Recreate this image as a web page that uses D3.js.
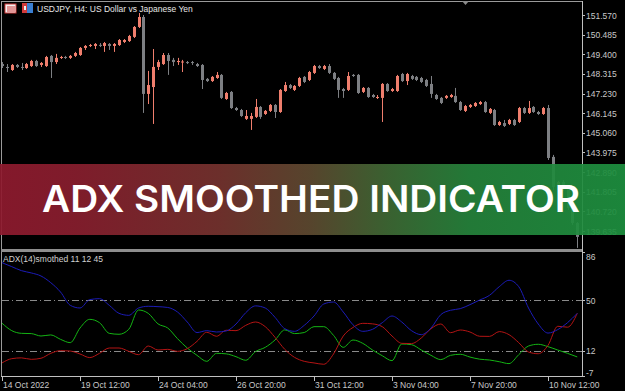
<!DOCTYPE html>
<html>
<head>
<meta charset="utf-8">
<script src="https://cdn.jsdelivr.net/npm/d3@7"></script>
<style>
  body { margin: 0; background: #000; }
  svg { display: block; }
  text { font-family: "Liberation Sans", Arial, sans-serif; }
</style>
</head>
<body>
<svg id="chart"></svg>
<script>
// USDJPY H4 bars, 14 Oct 2022 20:00 .. 11 Nov 2022
var open = [148.86,148.70,148.53,148.81,148.70,148.64,148.75,149.03,148.81,148.75,
  149.31,148.97,149.20,149.25,149.20,149.31,149.36,149.75,149.86,149.86,
  149.92,149.86,149.97,149.86,149.91,150.08,150.13,150.36,150.91,151.46,
  147.21,147.59,148.70,148.86,149.36,149.09,148.97,148.97,148.97,148.97,
  148.86,148.81,148.04,147.92,148.09,148.26,146.93,147.32,146.43,146.32,
  145.83,145.83,145.94,146.49,146.10,146.27,146.60,146.21,147.37,147.70,
  147.43,147.65,148.15,147.98,148.37,148.75,148.59,148.75,148.37,148.09,
  147.48,147.43,148.26,148.26,147.32,147.54,147.15,146.99,146.99,147.76,
  147.37,147.37,148.31,147.92,148.20,148.15,148.09,147.98,147.76,147.15,
  146.99,146.99,147.04,147.10,146.76,146.27,146.49,146.54,146.65,146.76,
  146.16,146.32,145.49,145.60,145.55,145.77,145.66,146.43,146.16,146.49,
  146.21,146.10,146.43,143.73,141.90,142.34,142.00,140.91,140.08];
var high = [148.97,148.86,148.86,148.86,148.92,148.92,149.09,149.09,148.97,149.31,
  149.36,149.42,149.31,149.31,149.36,149.53,149.80,149.91,149.97,150.02,
  150.02,150.08,150.02,150.02,150.24,150.24,150.47,150.96,151.68,151.57,
  148.48,149.69,149.09,149.47,149.47,149.20,149.20,149.09,149.03,149.03,
  148.92,148.86,148.09,148.20,148.42,148.31,147.32,147.37,146.49,146.38,
  146.32,146.16,146.93,146.54,146.32,146.65,146.65,147.48,147.87,147.76,
  147.70,148.15,148.20,148.48,148.81,148.81,148.81,148.86,148.42,148.15,
  147.54,148.42,148.31,148.31,147.59,147.59,147.21,147.15,147.81,147.81,
  147.54,148.26,148.37,148.37,148.26,148.20,148.15,148.04,148.20,147.21,
  147.04,147.15,147.21,147.54,146.82,146.60,146.65,146.76,146.82,146.82,
  146.43,146.38,145.72,145.77,145.83,145.83,146.49,146.49,146.82,146.54,
  146.27,146.49,146.60,143.84,142.40,142.45,142.10,141.00,140.13];
var low = [148.64,148.42,148.48,148.64,148.53,148.59,148.70,148.70,148.70,148.70,
  148.09,148.86,149.14,149.14,149.14,149.25,149.31,149.64,149.80,149.69,
  149.80,149.53,149.64,149.53,149.86,150.02,150.08,150.30,150.85,146.16,
  146.65,145.55,148.53,148.81,148.26,148.75,148.81,148.42,148.86,148.81,
  148.70,147.48,147.87,147.87,148.04,146.93,146.88,146.38,146.27,145.94,
  145.77,145.22,145.88,145.83,146.05,146.21,145.88,146.16,147.32,147.48,
  147.37,147.59,147.81,147.92,148.31,148.59,148.53,148.31,147.98,146.99,
  146.99,147.37,148.15,147.21,147.26,146.99,146.99,146.93,145.66,147.32,
  147.32,147.32,147.87,147.70,147.98,147.92,147.81,147.59,146.99,146.88,
  146.65,146.93,146.99,146.71,146.27,146.21,146.43,146.49,146.60,146.16,
  146.10,145.44,145.44,145.38,145.49,145.44,145.60,146.10,146.10,146.16,
  146.05,146.05,143.56,141.90,141.70,141.85,140.80,139.97,138.70];
var close = [148.75,148.64,148.81,148.70,148.68,148.86,149.03,148.75,148.92,149.25,
  148.97,149.20,149.25,149.20,149.31,149.47,149.75,149.86,149.91,149.97,
  149.90,150.02,149.86,149.97,150.19,150.19,150.41,150.91,151.46,147.21,
  147.70,148.70,148.97,149.36,149.03,148.97,149.03,149.00,148.92,148.92,
  148.75,147.98,147.92,148.15,148.26,146.99,147.26,146.43,146.32,145.99,
  145.99,145.99,146.49,145.94,146.27,146.60,146.21,147.43,147.70,147.54,
  147.65,148.09,147.87,148.42,148.75,148.64,148.75,148.37,148.04,147.43,
  147.37,148.20,148.20,147.26,147.54,147.04,147.04,147.04,147.76,147.37,
  147.48,148.20,147.92,148.31,148.04,147.98,147.87,147.65,147.21,146.93,
  146.71,147.10,147.15,146.76,146.32,146.54,146.60,146.71,146.76,146.21,
  146.38,145.49,145.66,145.44,145.77,145.49,146.43,146.16,146.43,146.21,
  146.10,146.43,143.67,142.07,142.34,142.00,140.91,140.08,139.31];

var priceTicks = [151.570,150.485,149.400,148.315,147.230,146.145,145.060,143.975,142.890,141.805,140.720,139.635];

var timeTickBars = [0,16,32,48,64,80,96,112];
var timeTickLabels = ["14 Oct 2022","19 Oct 12:00","24 Oct 04:00","26 Oct 20:00","31 Oct 12:00","3 Nov 04:00","7 Nov 20:00","10 Nov 12:00"];

// ADX smoothed indicator, sampled every second bar
var sampleBars = [0,2,4,6,8,10,12,14,16,18,20,22,24,26,28,30,32,34,36,38,40,42,44,46,48,50,52,54,56,58,
  60,62,64,66,68,70,72,74,76,78,80,82,84,86,88,90,92,94,96,98,100,102,104,106,108,110,112,114,116,118];
var adx = [78,75,72,70.3,68,63,56,46,44,50.3,51,46,40,38.5,44,45.3,45,44.4,41,33.5,
  25.6,27,26,26.8,32,40.5,45.6,44,37,28.5,26.5,31,38,47,48.5,41,31.4,26.5,28,33,
  38,33.5,27,24,29,39,42.3,43.5,46.5,50,53.5,60,64.8,60,44,32,25.2,27.8,33,40];
var minusDi = [2.8,6,6.6,5.5,6.3,10,12,11.7,9.5,6.8,10,14,14,11.5,9,15.5,12.5,13,11.5,13.5,
  19,25.8,22.8,27.3,27,31,33.5,30,22,13,7,4,2.8,1.8,9.5,23,29.4,32.5,32.1,30,
  23,17.5,17.3,21.5,28.5,32,25.5,27.5,26,22.8,22.7,26.3,24,18,11,9.7,16,30.3,29.6,40];
var plusDi = [32.6,27,25,24.8,23,23.8,20.5,18,29,35.5,33,25,24.3,28,42.5,40,32.1,29,21,14,
  8.5,4,10,9.6,7.5,4.8,11.3,14.5,20,27.6,24.8,25.6,30,30,23.5,14.5,20,17.5,12.5,8.2,
  4.5,17,16.5,12.5,8.5,5.3,8.5,9.3,7.2,5.6,5,3.7,2.3,9,15.5,16.8,15,12.5,10,7.3];
var indTicks = [86,50,12,-7];
var indLevels = [50,12];

var width = 625, height = 391;
var plotRight = 582;

var svg = d3.select("#chart").attr("width", width).attr("height", height);
svg.append("rect").attr("width", width).attr("height", height).attr("fill", "#000");

var x = d3.scaleLinear().domain([0, 118]).range([2, 577.25]);
var y = d3.scaleLinear().domain([139.635, 151.570]).range([231, 15]);
var yi = d3.scaleLinear().domain([-7, 86]).range([376, 252]);

var gray = "#7d7f83", salmon = "#ef7e6d";

// main pane
var main = svg.append("g");
main.append("clipPath").attr("id", "mainclip")
  .append("rect").attr("x", 1).attr("y", 2).attr("width", plotRight - 1).attr("height", 247);

var candles = main.append("g").attr("clip-path", "url(#mainclip)")
  .selectAll("g").data(open).enter().append("g");

candles.append("line")
  .attr("x1", function(d, i) { return Math.round(x(i)) + 0.5; })
  .attr("x2", function(d, i) { return Math.round(x(i)) + 0.5; })
  .attr("y1", function(d, i) { return y(high[i]); })
  .attr("y2", function(d, i) { return y(low[i]); })
  .attr("stroke", function(d, i) { return close[i] >= open[i] ? salmon : gray; })
  .attr("stroke-width", 1);

candles.append("rect")
  .attr("x", function(d, i) { return Math.round(x(i)) - 1; })
  .attr("width", 3)
  .attr("y", function(d, i) { return y(Math.max(open[i], close[i])); })
  .attr("height", function(d, i) { return Math.max(1, Math.abs(y(open[i]) - y(close[i]))); })
  .attr("fill", function(d, i) { return close[i] >= open[i] ? salmon : gray; });

// frame
svg.append("line").attr("x1", 1.5).attr("x2", 1.5).attr("y1", 1).attr("y2", 377).attr("stroke", "#9a9a9a");
svg.append("line").attr("x1", 1).attr("x2", plotRight).attr("y1", 1.5).attr("y2", 1.5).attr("stroke", "#9a9a9a");
svg.append("line").attr("x1", plotRight + 0.5).attr("x2", plotRight + 0.5).attr("y1", 1).attr("y2", 377).attr("stroke", "#c0c0c0");
svg.append("rect").attr("x", 1).attr("y", 249).attr("width", plotRight - 1).attr("height", 3).attr("fill", "#8e8e8e");
svg.append("line").attr("x1", 1).attr("x2", plotRight).attr("y1", 376.5).attr("y2", 376.5).attr("stroke", "#c0c0c0");

// shift marker
svg.append("path").attr("d", "M462,1 L469,1 L465.5,5 Z").attr("fill", "#8a8a8a");

// price axis
var pAxis = svg.append("g");
pAxis.selectAll("line").data(priceTicks).enter().append("line")
  .attr("x1", plotRight).attr("x2", plotRight + 3)
  .attr("y1", function(d) { return Math.round(y(d)) + 0.5; })
  .attr("y2", function(d) { return Math.round(y(d)) + 0.5; })
  .attr("stroke", "#c0c0c0");
pAxis.selectAll("text").data(priceTicks).enter().append("text")
  .attr("x", plotRight + 4).attr("y", function(d) { return y(d) + 3.5; })
  .attr("fill", "#c8c8c8").attr("font-size", "8.5px")
  .text(function(d) { return d3.format(".3f")(d); });

// header
svg.append("rect").attr("x", 5).attr("y", 4).attr("width", 11).attr("height", 9).attr("fill", "#f2f2f2").attr("stroke", "#d23a3a");
[6.5, 8.5, 10.5].forEach(function(r) {
  svg.append("line").attr("x1", 7).attr("x2", 15).attr("y1", r + 0.5).attr("y2", r + 0.5).attr("stroke", "#d23a3a");
});
svg.append("rect").attr("x", 22).attr("y", 3).attr("width", 5).attr("height", 10).attr("fill", "#d23a3a");
svg.append("rect").attr("x", 27).attr("y", 3).attr("width", 6).attr("height", 10).attr("fill", "#3a7fd2");
svg.append("rect").attr("x", 24).attr("y", 6).attr("width", 2).attr("height", 4).attr("fill", "#f2f2f2");
svg.append("text").attr("x", 37).attr("y", 12).attr("fill", "#e6e6e6").attr("font-size", "8.5px")
  .text("USDJPY, H4:  US Dollar vs Japanese Yen");

// indicator pane
var ind = svg.append("g");
ind.selectAll("line.level").data(indLevels).enter().append("line")
  .attr("class", "level")
  .attr("x1", 2).attr("x2", plotRight)
  .attr("y1", function(d) { return Math.round(yi(d)) + 0.5; })
  .attr("y2", function(d) { return Math.round(yi(d)) + 0.5; })
  .attr("stroke", "#8a8a8a").attr("stroke-dasharray", "7,3,1,3");

function series(vals) {
  return sampleBars.map(function(b, k) { return [b, vals[k]]; });
}
var line = d3.line()
  .x(function(d) { return x(d[0]); })
  .y(function(d) { return yi(d[1]); })
  .curve(d3.curveMonotoneX);

ind.append("path").datum(series(plusDi)).attr("d", line).attr("fill", "none").attr("stroke", "#14b414");
ind.append("path").datum(series(minusDi)).attr("d", line).attr("fill", "none").attr("stroke", "#b41414");
ind.append("path").datum(series(adx)).attr("d", line).attr("fill", "none").attr("stroke", "#1c1cb8");

ind.append("text").attr("x", 3).attr("y", 262).attr("fill", "#d0d0d0").attr("font-size", "8.5px")
  .text("ADX(14)smothed 11 12 45");

ind.selectAll("line.tick").data(indTicks).enter().append("line")
  .attr("class", "tick")
  .attr("x1", plotRight).attr("x2", plotRight + 3)
  .attr("y1", function(d) { return Math.round(yi(d)) + 0.5; })
  .attr("y2", function(d) { return Math.round(yi(d)) + 0.5; })
  .attr("stroke", "#c0c0c0");
ind.selectAll("text.tl").data(indTicks).enter().append("text")
  .attr("class", "tl")
  .attr("x", plotRight + 4)
  .attr("y", function(d) { return Math.min(Math.max(yi(d), 256), 372) + 3.5; })
  .attr("fill", "#c8c8c8").attr("font-size", "8.5px")
  .text(function(d) { return d; });

// time axis
var tAxis = svg.append("g");
tAxis.selectAll("line").data(timeTickBars).enter().append("line")
  .attr("x1", function(d) { return Math.round(x(d)) + 0.5; })
  .attr("x2", function(d) { return Math.round(x(d)) + 0.5; })
  .attr("y1", 377).attr("y2", 381)
  .attr("stroke", "#c0c0c0");
tAxis.selectAll("text").data(timeTickBars).enter().append("text")
  .attr("x", function(d) { return x(d) + 1; })
  .attr("y", 388)
  .attr("fill", "#c8c8c8").attr("font-size", "8.5px")
  .text(function(d, i) { return timeTickLabels[i]; });

// banner overlay
var defs = svg.append("defs");
var grad = defs.append("linearGradient").attr("id", "bannerGrad");
[["0%", "#8e1a2e"], ["12%", "#881e2e"], ["35%", "#74322e"], ["50%", "#5c4a30"],
 ["62%", "#3e6834"], ["75%", "#25823b"], ["100%", "#1d8f3f"]].forEach(function(s) {
  grad.append("stop").attr("offset", s[0]).attr("stop-color", s[1]);
});
svg.append("rect").attr("x", 0).attr("y", 164).attr("width", width).attr("height", 71)
  .attr("fill", "url(#bannerGrad)").attr("opacity", 0.93);
svg.append("text").attr("x", 42).attr("y", 212)
  .attr("fill", "#fff").attr("font-size", "37px").attr("font-weight", 600)
  .style("font-family", "Inter, Lato, sans-serif")
  .attr("textLength", 538).attr("lengthAdjust", "spacingAndGlyphs")
  .text("ADX SMOOTHED INDICATOR");
</script>
</body>
</html>
